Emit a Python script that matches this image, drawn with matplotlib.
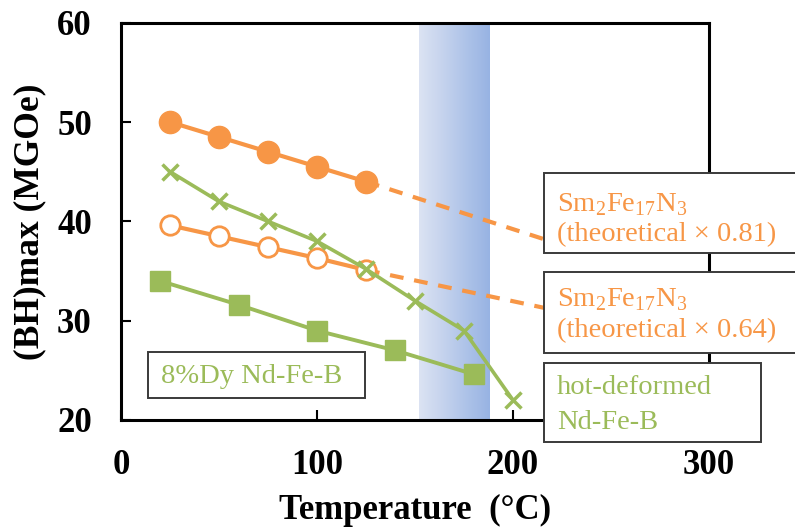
import numpy as np
import matplotlib
matplotlib.use("Agg")
import matplotlib.pyplot as plt
from matplotlib.colors import LinearSegmentedColormap
from matplotlib.patches import Rectangle

# ---------------- data ----------------
sm081_x = [25, 50, 75, 100, 125]
sm081_y = [50.0, 48.5, 47.0, 45.5, 44.0]
sm081_ext_x = [125, 230]
sm081_ext_y = [44.0, 37.3]

sm064_x = [25, 50, 75, 100, 125]
sm064_y = [39.6, 38.5, 37.4, 36.3, 35.1]
sm064_ext_x = [125, 230]
sm064_ext_y = [35.1, 30.7]

hot_x = [25, 50, 75, 100, 125, 150, 175, 200]
hot_y = [45.0, 42.0, 40.0, 38.0, 35.2, 32.0, 29.0, 22.0]

dy_x = [20, 60, 100, 140, 180]
dy_y = [34.0, 31.6, 29.0, 27.0, 24.6]

band_range = [152, 188]

x_ticks = [0, 100, 200, 300]
y_ticks = [20, 30, 40, 50, 60]

ORANGE = "#F79646"
GREEN = "#9BBB59"

plt.rcParams['font.family'] = ['Liberation Serif', 'DejaVu Serif']
plt.rcParams['mathtext.fontset'] = 'custom'
plt.rcParams['mathtext.rm'] = 'Liberation Serif'

W, H = 795, 532
fig = plt.figure(figsize=(W / 100, H / 100), dpi=100)

def fx(px):
    return px / W

def fy(py):
    return 1 - py / H

ax_l, ax_r, ax_t, ax_b = 121, 709, 22.7, 420
ax = fig.add_axes([fx(ax_l), fy(ax_b), fx(ax_r) - fx(ax_l), fy(ax_t) - fy(ax_b)])
ax.set_xlim(0, 300)
ax.set_ylim(20, 60)

# gradient band
cmap = LinearSegmentedColormap.from_list("band", ["#DCE3F3", "#97B3E3"])
grad = np.linspace(0, 1, 256).reshape(1, -1)
ax.imshow(grad, cmap=cmap, extent=[band_range[0], band_range[1], 20, 60],
          aspect='auto', zorder=0.5, interpolation='bilinear')

# series
ax.plot(sm081_ext_x, sm081_ext_y, color=ORANGE, lw=3, dashes=(3.3, 2.6), zorder=2)
ax.plot(sm064_ext_x, sm064_ext_y, color=ORANGE, lw=3, dashes=(3.3, 2.6), zorder=2)
ax.plot(sm081_x, sm081_y, color=ORANGE, lw=3, marker='o', ms=16,
        mfc=ORANGE, mec=ORANGE, zorder=3)
ax.plot(sm064_x, sm064_y, color=ORANGE, lw=3, marker='o', ms=14,
        mfc='white', mec=ORANGE, mew=2, zorder=3)
ax.plot(hot_x, hot_y, color=GREEN, lw=2.6, marker='x', ms=11, mew=2.5, zorder=4)
ax.plot(dy_x, dy_y, color=GREEN, lw=2.8, marker='s', ms=15, mfc=GREEN, mec=GREEN,
        zorder=4)

ax.set_xticks(x_ticks)
ax.set_yticks(y_ticks)
ax.tick_params(direction='in', length=7, width=1.5, pad=21, labelsize=25)
for lab in ax.get_xticklabels() + ax.get_yticklabels():
    lab.set_fontweight('bold')
for s in ax.spines.values():
    s.set_linewidth(2.2)

ax.set_xlabel("Temperature  (\u00b0C)", fontsize=25, fontweight='bold', va='center')
ax.xaxis.set_label_coords(0.5, (ax_b - 510) / (ax_b - ax_t))
ax.set_ylabel("(BH)max (MGOe)", fontsize=25.5, fontweight='bold', va='center', ha='center')
ax.yaxis.set_label_coords((30 - ax_l) / (ax_r - ax_l), 0.5)

# boxes in pixel coords
def box(x0, y0, x1, y1):
    r = Rectangle((fx(x0), fy(y1)), fx(x1) - fx(x0), fy(y0) - fy(y1),
                  transform=fig.transFigure, facecolor='white',
                  edgecolor='#3a3a3a', lw=1.4, zorder=5)
    fig.add_artist(r)

def txt(x, y, s, color):
    fig.text(fx(x), fy(y), s, color=color, fontsize=20.5, ha='left',
             va='baseline', zorder=6)

box(544, 172.7, 800, 253)
txt(557, 211, r"Sm$_2$Fe$_{17}$N$_3$", ORANGE)
txt(557, 241, "(theoretical \u00d7 0.81)", ORANGE)

box(544, 272.3, 800, 352.7)
txt(557, 306.7, r"Sm$_2$Fe$_{17}$N$_3$", ORANGE)
txt(557, 336.7, "(theoretical \u00d7 0.64)", ORANGE)

box(544, 362.7, 761, 441.7)
txt(557, 394, "hot-deformed", GREEN)
txt(557, 429, "Nd-Fe-B", GREEN)

box(148.3, 351.7, 365, 398.3)
txt(161, 383.3, "8%Dy Nd-Fe-B", GREEN)

fig.savefig("out.png", dpi=100)
